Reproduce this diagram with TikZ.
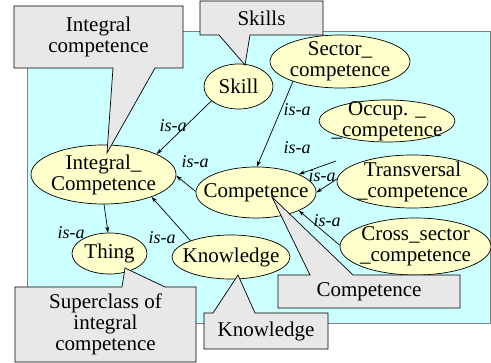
\documentclass[tikz,border=0pt]{standalone}
\usepackage{fontspec}
\setmainfont{Liberation Serif}
\newfontfamily\timesfont{Liberation Serif}
\usepackage{tikz}
\usetikzlibrary{shapes.geometric, arrows.meta}
\definecolor{bgcyan}{RGB}{204,255,255}
\definecolor{conceptyellow}{RGB}{255,255,204}
\definecolor{notegray}{RGB}{232,232,232}
\tikzset{>={Stealth[length=6pt,width=4pt]}}
\tikzset{concept/.style={ellipse, draw, fill=conceptyellow, inner sep=-10pt, align=center, font=\timesfont\fontsize{21}{21}\selectfont}}
\tikzset{note/.style={draw, fill=notegray}}
\tikzset{notetext/.style={align=center, inner sep=0pt, font=\timesfont\fontsize{21}{21}\selectfont}}
\tikzset{isa/.style={inner sep=0pt, font=\timesfont\fontsize{18}{18}\selectfont\itshape}}

\begin{document}
\begin{tikzpicture}[x=1pt, y=-1pt, line width=0.7pt]
		\useasboundingbox (0, 0) rectangle (491, 363);
		\draw[fill=bgcyan, draw=gray] (27, 31) rectangle (490.5, 323);

		\begin{scope}[every node/.append style={concept}]
			\node[minimum width=69, minimum height=45] (skill) at (238.5, 86.5) {Skill};
			\node[minimum width=140, minimum height=53] (sector) at (340, 61.5) {Sector\_\\competence};
			\node[minimum width=136, minimum height=42] (occup) at (387, 121) {Occup. \_\\\_competence};
			\node[minimum width=151, minimum height=53] (trans) at (412.5, 181.5) {Transversal\\\_competence};
			\node[minimum width=151, minimum height=57] (cross) at (415.5, 246.5) {Cross\_sector\\\_competence};
			\node[minimum width=120, minimum height=51] (comp) at (256, 192.5) {Competence};
			\node[minimum width=145, minimum height=59] (integral) at (103.5, 174.5) {Integral\_\\Competence};
			\node[minimum width=75, minimum height=41] (thing) at (109.5, 253.5) {Thing};
			\node[minimum width=118, minimum height=44] (know) at (231, 257) {Knowledge};
		\end{scope}
		\coordinate (occfoot) at (336, 161);

		\path[->] (skill.208) edge (integral.21) (sector.203) edge (comp.88) (occfoot) edge (comp.23) (trans.178) edge (comp.0) (cross.179) edge (comp.337) (comp.179) edge (integral.359) (know.158) edge (integral.335) (integral.271) edge (thing.94);

		\begin{scope}[every node/.append style={isa}]
			\node (isa1) at (173, 126) {is-a};
			\node (isa2) at (297, 110) {is-a};
			\node (isa3) at (297, 148) {is-a};
			\node (isa4) at (322, 176) {is-a};
			\node (isa5) at (327, 221) {is-a};
			\node (isa6) at (195, 162) {is-a};
			\node (isa7) at (162, 238) {is-a};
			\node (isa8) at (71, 233) {is-a};
		\end{scope}

		\filldraw[note] (14, 6) -- (183, 6) -- (183, 68) -- (155, 68) -- (107, 153) -- (113, 68) -- (14, 68) -- cycle;
		\node[notetext] (nintegral) at (98.5, 37) {Integral\\competence};
		\filldraw[note] (200, 1) -- (323, 1) -- (323, 35) -- (250, 35) -- (245, 65) -- (219, 35) -- (200, 35) -- cycle;
		\node[notetext] (nskill) at (261.5, 18) {Skills};
		\filldraw[note] (278, 275) -- (310, 275) -- (272, 197) -- (353, 275) -- (460, 275) -- (460, 308) -- (278, 308) -- cycle;
		\node[notetext] (ncomp) at (369, 291.5) {Competence};
		\filldraw[note] (204, 313) -- (213, 313) -- (238, 275) -- (255, 313) -- (328, 313) -- (328, 349) -- (204, 349) -- cycle;
		\node[notetext] (nknow) at (266, 331) {Knowledge};
		\filldraw[note] (15, 287) -- (122, 287) -- (125, 268) -- (165, 287) -- (196, 287) -- (196, 362) -- (15, 362) -- cycle;
		\node[notetext] (nthing) at (105.5, 324.5) {Superclass of\\integral\\competence};
	\end{tikzpicture}
\end{document}
